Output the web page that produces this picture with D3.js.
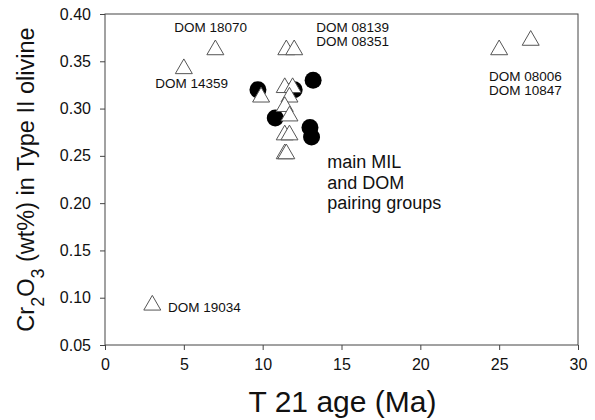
<!DOCTYPE html>
<html lang="en">
<head>
  <meta charset="UTF-8">
  <title>Cr2O3 vs T21 age</title>
  <script src="https://d3js.org/d3.v7.min.js"></script>
  <style>
    body { margin: 0; background: #fff; font-family: 'Liberation Sans', Arial, sans-serif; }
    svg text { fill: #111; }
  </style>
</head>
<body>
  <svg width="595" height="420"></svg>
  <script>
    // open triangles: other samples
    const triX = [3, 5, 7, 25, 27, 11.5, 12, 9.9, 11.4, 11.9, 11.7, 11.4, 11.7, 11.4, 11.7, 11.4, 11.5];
    const triY = [0.09, 0.34, 0.36, 0.36, 0.37, 0.36, 0.36, 0.31, 0.32, 0.32, 0.31, 0.30, 0.29, 0.27, 0.27, 0.25, 0.25];
    // filled circles: main MIL / DOM pairing groups
    const dotX = [9.7, 12.0, 13.2, 10.8, 13.0, 13.1];
    const dotY = [0.32, 0.32, 0.33, 0.29, 0.28, 0.27];

    const xTicks = [0, 5, 10, 15, 20, 25, 30];
    const yTicks = [0.05, 0.10, 0.15, 0.20, 0.25, 0.30, 0.35, 0.40];

    // annotation text, anchored in data units
    const notes = [
      { x: 6.7, y: 0.381, anchor: "middle", lines: ["DOM 18070"] },
      { x: 5.5, y: 0.322, anchor: "middle", lines: ["DOM 14359"] },
      { x: 13.4, y: 0.381, anchor: "start", lines: ["DOM 08139", "DOM 08351"] },
      { x: 24.35, y: 0.329, anchor: "start", lines: ["DOM 08006", "DOM 10847"] },
      { x: 4.0, y: 0.085, anchor: "start", lines: ["DOM 19034"] }
    ];
    const groupNote = { x: 14.1, y: 0.237, lines: ["main MIL", "and DOM", "pairing groups"] };

    const svg = d3.select("svg");
    const mLeft = 105, mRight = 578, mTop = 14, mBottom = 345;

    const x = d3.scaleLinear().domain([0, 30]).range([mLeft, mRight]);
    const y = d3.scaleLinear().domain([0.05, 0.40]).range([mBottom, mTop]);

    // frame
    svg.append("rect")
      .attr("x", mLeft).attr("y", mTop)
      .attr("width", mRight - mLeft).attr("height", mBottom - mTop)
      .attr("fill", "none").attr("stroke", "#444").attr("stroke-width", 1);

    const xAxis = svg.append("g")
      .attr("transform", `translate(0,${mBottom})`)
      .call(d3.axisBottom(x).tickValues(xTicks).tickSize(5).tickPadding(9).tickFormat(d3.format("d")));
    xAxis.select(".domain").remove();
    xAxis.selectAll("line").attr("stroke", "#444");
    xAxis.selectAll("text").style("font-size", "16px").style("font-family", "'Liberation Sans', Arial, sans-serif").attr("fill", "#111");

    const yAxis = svg.append("g")
      .attr("transform", `translate(${mLeft},0)`)
      .call(d3.axisLeft(y).tickValues(yTicks).tickSize(5).tickPadding(9).tickFormat(d3.format(".2f")));
    yAxis.select(".domain").remove();
    yAxis.selectAll("line").attr("stroke", "#444");
    yAxis.selectAll("text").style("font-size", "16px").style("font-family", "'Liberation Sans', Arial, sans-serif").attr("fill", "#111");

    // axis titles
    svg.append("text")
      .attr("x", (mLeft + mRight) / 2 + 1).attr("y", 412)
      .attr("text-anchor", "middle")
      .style("font-size", "30px")
      .text("T 21 age (Ma)");

    const yt = svg.append("text")
      .attr("transform", `translate(34,${(mTop + mBottom) / 2}) rotate(-90)`)
      .attr("text-anchor", "middle")
      .style("font-size", "23.5px");
    yt.append("tspan").text("Cr");
    yt.append("tspan").attr("baseline-shift", "sub").style("font-size", "18px").text("2");
    yt.append("tspan").text("O");
    yt.append("tspan").attr("baseline-shift", "sub").style("font-size", "18px").text("3");
    yt.append("tspan").text(" (wt%) in Type II olivine");

    // filled circles (drawn under the triangles)
    svg.append("g").selectAll("circle")
      .data(d3.zip(dotX, dotY))
      .join("circle")
      .attr("cx", d => x(d[0]))
      .attr("cy", d => y(d[1]))
      .attr("r", 8.5)
      .attr("fill", "#000");

    // triangles
    const tri = d3.symbol().type(d3.symbolTriangle).size(125);
    svg.append("g").selectAll("path")
      .data(d3.zip(triX, triY))
      .join("path")
      .attr("d", tri)
      .attr("transform", d => `translate(${x(d[0])},${y(d[1]) - 2})`)
      .attr("fill", "#fff")
      .attr("stroke", "#555")
      .attr("stroke-width", 1);

    // labels
    notes.forEach(n => {
      const t = svg.append("text")
        .attr("x", x(n.x)).attr("y", y(n.y))
        .attr("text-anchor", n.anchor)
        .style("font-size", "13.5px");
      n.lines.forEach((l, i) => {
        t.append("tspan").attr("x", x(n.x)).attr("dy", i ? 14 : 0).text(l);
      });
    });

    const g = svg.append("text")
      .attr("x", x(groupNote.x)).attr("y", y(groupNote.y))
      .style("font-size", "18px");
    groupNote.lines.forEach((l, i) => {
      g.append("tspan").attr("x", x(groupNote.x)).attr("dy", i ? 20.5 : 0).text(l);
    });
  </script>
</body>
</html>
